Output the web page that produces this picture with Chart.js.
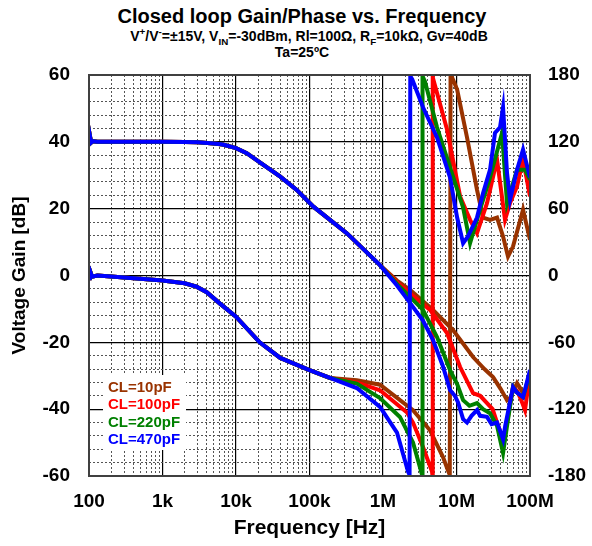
<!DOCTYPE html>
<html>
<head>
<meta charset="utf-8">
<script src="https://cdn.jsdelivr.net/npm/chart.js@4.4.0/dist/chart.umd.min.js"></script>
<style>
html, body { margin: 0; padding: 0; background: #fff; }
#page { position: relative; width: 592px; height: 546px; font-family: 'Liberation Sans', Arial, sans-serif; font-weight: bold; color: #000; }
.t { position: absolute; left: 0; width: 604px; text-align: center; line-height: 1; white-space: nowrap; }
#t1 { top: 6px; font-size: 20px; }
#t2 { top: 28.8px; left: 7px; font-size: 14px; }
#t3 { top: 44.8px; font-size: 14px; }
sup, sub { font-size: 0.7em; line-height: 0; }
#wrap { position: absolute; left: 0; top: 60px; width: 592px; height: 486px; }
</style>
</head>
<body>
<div id="page">
  <div class="t" id="t1">Closed loop Gain/Phase vs. Frequency</div>
  <div class="t" id="t2">V<sup>+</sup>/V<sup>-</sup>=±15V, V<sub>IN</sub>=-30dBm, Rl=100Ω, R<sub>F</sub>=10kΩ, Gv=40dB</div>
  <div class="t" id="t3">Ta=25ºC</div>
  <div id="wrap"><canvas id="chart" width="592" height="486"></canvas></div>
</div>
<script>
// x axis decades and their labels
const freqDecades = [100, 1e3, 1e4, 1e5, 1e6, 1e7, 1e8];
const freqLabels = ['100', '1k', '10k', '100k', '1M', '10M', '100M'];

// legend names, top to bottom
const seriesNames = ['CL=10pF', 'CL=100pF', 'CL=220pF', 'CL=470pF'];

// [frequency Hz, gain dB] - all four curves sit on top of each other up to ~1MHz
const gainCommon = [[100, 40.6], [102, 39.2], [104, 41.3], [107, 39.8], [112, 40.2], [130, 40], [300, 40], [1e3, 40],
  [2e3, 39.95], [3e3, 39.85], [5e3, 39.5], [6.6e3, 39.2], [1e4, 38.1], [1.4e4, 36.6], [2.36e4, 33.1], [4e4, 29.6],
  [6.7e4, 25.6], [1.13e5, 20.6], [3.24e5, 12.6], [9.1e5, 3.1]];
const gain10pF = [[1.55e6, -1.5], [2.33e6, -4.3], [4.79e6, -10.3], [8.96e6, -16.3], [1.68e7, -24.4], [2.4e7, -28],
  [3.14e7, -30.4], [4e7, -34], [4.87e7, -37.3], [5.4e7, -36.5], [6.66e7, -32.2], [7.5e7, -34], [8.5e7, -36], [1e8, -34.3]];
const gain100pF = [[1.55e6, -2], [2.33e6, -5.3], [4.36e6, -10.3], [7.43e6, -17.2], [1.12e7, -27.4], [1.68e7, -35.2],
  [2.1e7, -36], [2.6e7, -38.2], [3.1e7, -40], [3.56e7, -44], [4.3e7, -49], [4.87e7, -44], [5.87e7, -33.4], [6.66e7, -34.5],
  [7.5e7, -37], [8.55e7, -40.3], [1e8, -29.2]];
const gain220pF = [[1.55e6, -2.5], [2.33e6, -6.4], [3.5e6, -10.3], [5.43e6, -18.4], [8.16e6, -28.3], [1.02e7, -32.5],
  [1.23e7, -37.3], [1.5e7, -39], [1.9e7, -38.2], [2.3e7, -40], [2.86e7, -41.2], [3.56e7, -45], [4.3e7, -53.1],
  [4.87e7, -45], [5.87e7, -33.4], [6.66e7, -35], [8.04e7, -36.4], [1e8, -29.2]];
const gain470pF = [[1.55e6, -3], [2.33e6, -8.2], [3.5e6, -13.5], [4.79e6, -19.3], [6.5e6, -27], [8.16e6, -34.3],
  [9.5e6, -36], [1.05e7, -38], [1.23e7, -43], [1.39e7, -44], [1.6e7, -42], [1.9e7, -40.3], [2.1e7, -42], [2.6e7, -42.3],
  [3e7, -44.5], [3.56e7, -44], [4.3e7, -49], [4.6e7, -45], [5.87e7, -33.4], [6.6e7, -35], [8.04e7, -36.4], [1e8, -28.3]];

// [frequency Hz, phase deg] - phase wraps from -180 to +180
const phaseCommon = [[100, 0], [101, 4], [103, -4], [106, 2], [110, -1], [130, 0], [200, -1], [500, -3], [1e3, -4.5],
  [2e3, -7], [2.9e3, -10], [4e3, -15], [6e3, -25], [1e4, -37], [2.1e4, -60], [4e4, -74], [1e5, -85], [1.9e5, -92]];
const phase10pF = [[4.4e5, -94], [9.1e5, -98], [2.56e6, -121], [4.36e6, -139], [6.55e6, -163], [7.66e6, -175], [8.1e6, -179],
  [8.3e6, 179], [8.69e6, 178], [1.02e7, 167], [1.39e7, 124], [1.9e7, 77], [2.3e7, 52], [2.86e7, 50], [3.56e7, 52],
  [4.3e7, 35], [5.02e7, 17], [5.87e7, 26], [8.04e7, 59], [1e8, 32]];
const phase100pF = [[4.4e5, -96], [9.1e5, -103], [2.12e6, -123], [2.56e6, -132], [3.5e6, -154], [4.64e6, -176], [4.7e6, -179],
  [4.75e6, 179], [4.79e6, 177], [7.43e6, 131], [1.12e7, 71], [1.53e7, 50], [1.9e7, 38], [2.6e7, 65], [3.56e7, 104],
  [4.57e7, 50], [5.35e7, 65], [6.66e7, 80], [8.04e7, 104], [1e8, 71]];
const phase220pF = [[4.4e5, -97], [9.1e5, -110], [1.7e6, -127], [2.56e6, -150], [3.4e6, -179], [3.45e6, 179],
  [3.73e6, 174], [5.43e6, 133], [8.16e6, 97], [1.23e7, 61], [1.53e7, 29], [2.09e7, 59], [2.86e7, 88], [4.16e7, 128],
  [4.87e7, 65], [6.66e7, 95], [8.5e7, 95], [1e8, 86]];
const phase470pF = [[4.4e5, -101], [9.1e5, -118], [1.55e6, -141], [2.19e6, -176], [2.3e6, -179], [2.35e6, 179],
  [2.5e6, 176], [3.5e6, 151], [5.43e6, 124], [8.16e6, 88], [1.02e7, 52], [1.23e7, 29], [1.43e7, 35], [1.9e7, 52],
  [2.3e7, 74], [2.86e7, 95], [3.34e7, 128], [3.91e7, 133], [4.3e7, 151], [4.87e7, 92], [5.35e7, 68], [6.66e7, 95],
  [8.04e7, 113], [1e8, 88]];

const seriesGain = [gain10pF, gain100pF, gain220pF, gain470pF];
const seriesPhase = [phase10pF, phase100pF, phase220pF, phase470pF];
const seriesColors = ['#993300', '#ff0000', '#008000', '#0000ff'];

const FONT = "'Liberation Sans', Arial, sans-serif";

function toPoints(pairs) {
    return pairs.map(p => ({ x: p[0], y: p[1] }));
}

function isDecade(v) {
    return freqDecades.some(d => Math.abs(v - d) < d * 1e-6);
}

// y axes: fixed width, and pin the plot top 15px below the canvas top
function fitY(width) {
    return scale => {
        scale.width = width;
        scale.paddingTop = 15;
        scale.paddingBottom = 0;
    };
}

// chart.js draws dataset 0 on top, so the 470pF curve goes first
const datasets = [];
for (let i = seriesNames.length - 1; i >= 0; i--) {
    datasets.push({
        label: seriesNames[i] + ' gain',
        data: toPoints(gainCommon.concat(seriesGain[i])),
        borderColor: seriesColors[i],
        borderWidth: 4,
        pointRadius: 0,
        yAxisID: 'y'
    });
    datasets.push({
        label: seriesNames[i] + ' phase',
        data: toPoints(phaseCommon.concat(seriesPhase[i])),
        borderColor: seriesColors[i],
        borderWidth: 4,
        pointRadius: 0,
        yAxisID: 'y1'
    });
}

const boxPlugin = {
    id: 'boxPlugin',
    beforeDatasetsDraw(chart) {
        // legend: coloured text on a white patch inside the plot
        const { ctx, chartArea: a } = chart;
        ctx.save();
        ctx.fillStyle = '#fff';
        ctx.fillRect(a.left + 14, a.top + 300, 83, 75);
        ctx.font = 'bold 15px ' + FONT;
        ctx.textBaseline = 'alphabetic';
        seriesNames.forEach((name, i) => {
            ctx.fillStyle = seriesColors[i];
            ctx.fillText(name, a.left + 19, a.top + 317 + i * 17.3);
        });
        ctx.restore();
    },
    afterDraw(chart) {
        const { ctx, chartArea: a } = chart;
        ctx.save();
        ctx.strokeStyle = '#404040';
        ctx.lineWidth = 2;
        ctx.strokeRect(a.left, a.top, a.right - a.left, a.bottom - a.top);
        ctx.restore();
    }
};

new Chart(document.getElementById('chart'), {
    type: 'line',
    data: { datasets },
    plugins: [boxPlugin],
    options: {
        responsive: false,
        animation: false,
        layout: { autoPadding: false, padding: 0 },
        plugins: { legend: { display: false }, tooltip: { enabled: false } },
        scales: {
            x: {
                type: 'logarithmic',
                min: 100,
                max: 1e8,
                afterBuildTicks: scale => {
                    const ticks = [];
                    freqDecades.forEach(d => {
                        for (let k = 1; k <= 9; k++) {
                            if (d * k <= 1e8) ticks.push({ value: d * k });
                        }
                    });
                    scale.ticks = ticks;
                },
                afterFit: scale => {
                    scale.height = 70;
                    scale.paddingLeft = 0;
                    scale.paddingRight = 0;
                },
                ticks: {
                    autoSkip: false,
                    maxRotation: 0,
                    padding: 14,
                    color: '#000',
                    font: { family: FONT, size: 19, weight: 'bold' },
                    callback: value => {
                        const i = freqDecades.findIndex(d => Math.abs(value - d) < d * 1e-6);
                        return i >= 0 ? freqLabels[i] : '';
                    }
                },
                grid: {
                    drawTicks: false,
                    color: ctx => isDecade(ctx.tick.value) ? '#000' : '#555',
                    lineWidth: ctx => isDecade(ctx.tick.value) ? 1.2 : 1
                },
                border: {
                    display: false,
                    dash: ctx => isDecade(ctx.tick.value) ? [] : [2, 2]
                },
                title: {
                    display: true,
                    text: 'Frequency [Hz]',
                    color: '#000',
                    font: { family: FONT, size: 21, weight: 'bold' },
                    padding: { top: 0, bottom: 5 }
                }
            },
            y: {
                position: 'left',
                min: -60,
                max: 60,
                afterFit: fitY(89),
                ticks: {
                    stepSize: 4,
                    autoSkip: false,
                    padding: 19,
                    color: '#000',
                    font: { family: FONT, size: 19, weight: 'bold' },
                    callback: v => Math.round(v) % 20 === 0 ? Math.round(v) : ''
                },
                grid: {
                    drawTicks: false,
                    color: ctx => Math.round(ctx.tick.value) % 20 === 0 ? '#000' : '#555',
                    lineWidth: ctx => Math.round(ctx.tick.value) % 20 === 0 ? 1.2 : 1
                },
                border: {
                    display: false,
                    dash: ctx => Math.round(ctx.tick.value) % 20 === 0 ? [] : [2, 2]
                },
                title: {
                    display: true,
                    text: 'Voltage Gain [dB]',
                    color: '#000',
                    font: { family: FONT, size: 19, weight: 'bold' },
                    padding: { top: 8, bottom: 0 }
                }
            },
            y1: {
                position: 'right',
                min: -180,
                max: 180,
                afterFit: fitY(62),
                ticks: {
                    stepSize: 12,
                    autoSkip: false,
                    padding: 18,
                    color: '#000',
                    font: { family: FONT, size: 19, weight: 'bold' },
                    callback: v => Math.round(v) % 60 === 0 ? Math.round(v) : ''
                },
                grid: { drawOnChartArea: false, drawTicks: false },
                border: { display: false }
            }
        }
    }
});
</script>
</body>
</html>
